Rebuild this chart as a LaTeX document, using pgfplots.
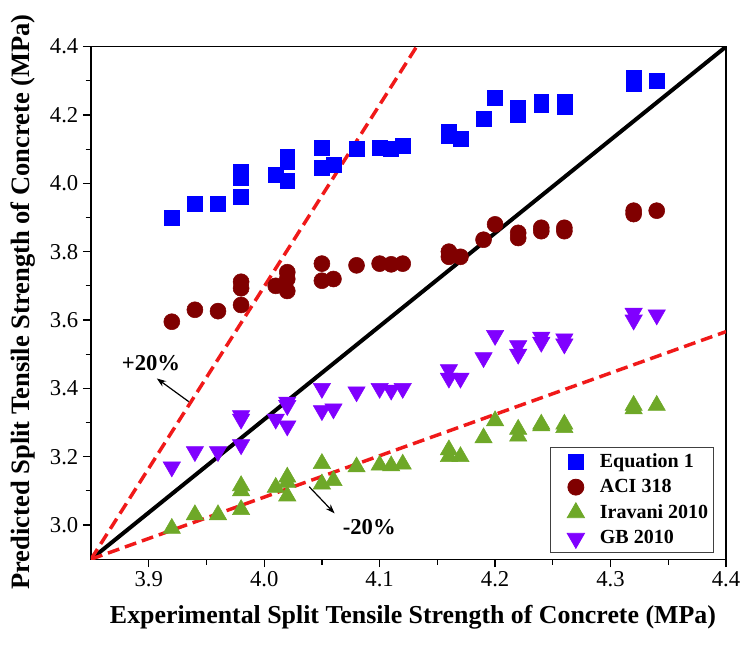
\documentclass[border=0pt]{standalone}
\usepackage{fontspec}
\setmainfont{Liberation Serif}
\usepackage{pgfplots}
\pgfplotsset{compat=1.18}
\usetikzlibrary{arrows.meta}
\definecolor{eqblue}{RGB}{0,0,255}
\definecolor{acired}{RGB}{128,0,0}
\definecolor{iragreen}{RGB}{110,168,40}
\definecolor{gbpurple}{RGB}{128,0,255}
\definecolor{dashred}{RGB}{240,25,25}
\begin{document}
\begin{tikzpicture}
\path[use as bounding box] (-68.25pt,-65.1pt) rectangle (489pt,419.4pt);
\begin{axis}[
  scale only axis,
  width=476.25pt, height=384.4pt,
  xmin=3.85, xmax=4.4, ymin=2.9, ymax=4.4,
  xtick={3.9,4.0,4.1,4.2,4.3,4.4},
  ytick={3.0,3.2,3.4,3.6,3.8,4.0,4.2,4.4},
  minor tick num=1,
  tick align=outside,
  xtick pos=left, ytick pos=left,
  major tick length=6pt, minor tick length=4pt,
  axis line style={line width=1pt},
  every tick/.style={black, line width=0.9pt},
  /pgf/number format/assume math mode=true,
  /pgf/number format/fixed, /pgf/number format/fixed zerofill, /pgf/number format/precision=1,
  tick label style={font=\fontsize{17}{20}\selectfont},
  xlabel={Experimental Split Tensile Strength of Concrete (MPa)},
  ylabel={Predicted Split Tensile Strength of Concrete (MPa)},
  xlabel style={font=\bfseries\fontsize{19.4}{22}\selectfont, at={(axis description cs:0.507,-0.113)}, anchor=center},
  ylabel style={font=\bfseries\fontsize{19.9}{22}\selectfont, at={(axis description cs:-0.107,0.502)}, anchor=center},
  legend style={at={(0.981,0.012)}, anchor=south east, draw=black!75, line width=0.6pt,
    font=\bfseries\fontsize{15}{18}\selectfont, row sep=3.5pt, inner xsep=2pt, inner ysep=3pt},
  legend image code/.code={\path[draw=none, fill=none] (0pt,-6pt) rectangle (33pt,6pt); \draw[#1] plot coordinates {(17pt,0pt)};},
  legend cell align=left,
  clip=true,
]
\addplot[only marks, mark=square*, mark size=5.6pt, color=eqblue] coordinates {
(3.92,3.90) (3.94,3.94) (3.96,3.94) (3.98,3.96) (3.98,4.015) (3.98,4.033)
(4.01,4.025) (4.02,4.078) (4.02,4.062) (4.02,4.008) (4.05,4.105) (4.05,4.045)
(4.06,4.055) (4.08,4.10) (4.10,4.105) (4.11,4.10) (4.12,4.11) (4.16,4.15) (4.16,4.14)
(4.17,4.13) (4.19,4.19) (4.20,4.25) (4.22,4.22) (4.22,4.20) (4.24,4.24) (4.24,4.23)
(4.26,4.24) (4.26,4.225) (4.32,4.31) (4.32,4.29) (4.34,4.30)};
\addlegendentry{Equation 1}
\addplot[only marks, mark=*, mark size=6pt, color=acired] coordinates {
(3.92,3.595) (3.94,3.63) (3.96,3.626) (3.98,3.644) (3.98,3.693) (3.98,3.712)
(4.01,3.70) (4.02,3.74) (4.02,3.72) (4.02,3.685) (4.05,3.765) (4.05,3.715)
(4.06,3.72) (4.08,3.76) (4.10,3.765) (4.11,3.763) (4.12,3.765) (4.16,3.80) (4.16,3.785)
(4.17,3.785) (4.19,3.835) (4.20,3.88) (4.22,3.855) (4.22,3.84) (4.24,3.87) (4.24,3.86)
(4.26,3.87) (4.26,3.86) (4.32,3.92) (4.32,3.91) (4.34,3.92)};
\addlegendentry{ACI 318}
\addplot[only marks, mark=triangle*, mark size=7.5pt, color=iragreen] coordinates {
(3.92,2.99) (3.94,3.03) (3.96,3.03) (3.98,3.045) (3.98,3.10) (3.98,3.115)
(4.01,3.11) (4.02,3.14) (4.02,3.125) (4.02,3.085) (4.05,3.18) (4.05,3.12)
(4.06,3.13) (4.08,3.17) (4.10,3.175) (4.11,3.173) (4.12,3.178) (4.16,3.22) (4.16,3.20)
(4.17,3.20) (4.19,3.255) (4.20,3.305) (4.22,3.28) (4.22,3.26) (4.24,3.295) (4.24,3.29)
(4.26,3.295) (4.26,3.285) (4.32,3.35) (4.32,3.34) (4.34,3.35)};
\addlegendentry{Iravani 2010}
\addplot[only marks, mark=triangle*, mark size=7.5pt, mark options={rotate=180}, color=gbpurple] coordinates {
(3.92,3.17) (3.94,3.215) (3.96,3.215) (3.98,3.235) (3.98,3.31) (3.98,3.32)
(4.01,3.31) (4.02,3.36) (4.02,3.35) (4.02,3.29) (4.05,3.40) (4.05,3.335)
(4.06,3.34) (4.08,3.39) (4.10,3.40) (4.11,3.395) (4.12,3.40) (4.16,3.455) (4.16,3.43)
(4.17,3.43) (4.19,3.49) (4.20,3.555) (4.22,3.525) (4.22,3.50) (4.24,3.55) (4.24,3.535)
(4.26,3.545) (4.26,3.53) (4.32,3.62) (4.32,3.60) (4.34,3.615)};
\addlegendentry{GB 2010}
\addplot[forget plot, no marks, black, line width=3pt] coordinates {(3.85,2.9) (4.4,4.4)};
\addplot[forget plot, no marks, dashred, line width=2.6pt, dash pattern=on 9pt off 4.5pt] coordinates {(3.85,2.9) (4.132,4.4)};
\addplot[forget plot, no marks, dashred, line width=2.6pt, dash pattern=on 9pt off 4.5pt] coordinates {(3.85,2.9) (4.4,3.566)};
\draw[-{Stealth[length=7pt,width=5pt]}, line width=0.9pt] (axis cs:3.9347,3.361) -- (axis cs:3.907,3.429);
\node[font=\bfseries\fontsize{17}{20}\selectfont] at (axis cs:3.902,3.473) {+20\%};
\draw[-{Stealth[length=7pt,width=5pt]}, line width=0.9pt] (axis cs:4.039,3.112) -- (axis cs:4.061,3.034);
\node[font=\bfseries\fontsize{17}{20}\selectfont] at (axis cs:4.091,2.995) {-20\%};
\end{axis}
\end{tikzpicture}
\end{document}
